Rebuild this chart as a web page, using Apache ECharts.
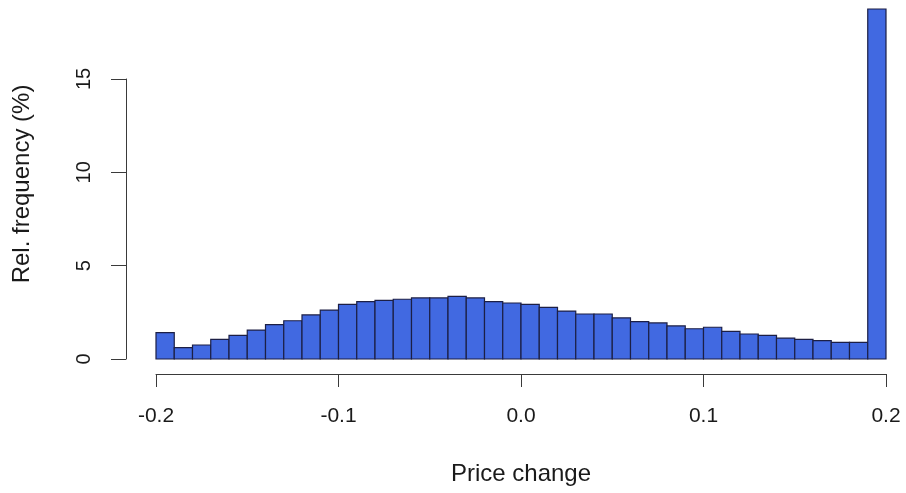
<!DOCTYPE html>
<html>
<head>
<meta charset="utf-8">
<script src="https://cdn.jsdelivr.net/npm/echarts@6/dist/echarts.min.js"></script>
<style>
html,body{margin:0;padding:0;background:#fff;}
#chart{width:906px;height:493px;}
</style>
</head>
<body>
<div id="chart"></div>
<script>
// Histogram bins (lower edges), bin width 0.01
const binStarts = [-0.20,-0.19,-0.18,-0.17,-0.16,-0.15,-0.14,-0.13,-0.12,-0.11,
                   -0.10,-0.09,-0.08,-0.07,-0.06,-0.05,-0.04,-0.03,-0.02,-0.01,
                    0.00, 0.01, 0.02, 0.03, 0.04, 0.05, 0.06, 0.07, 0.08, 0.09,
                    0.10, 0.11, 0.12, 0.13, 0.14, 0.15, 0.16, 0.17, 0.18, 0.19];
const binWidth = 0.01;
// Relative frequency (%)
const relFreq = [1.41,0.61,0.75,1.05,1.27,1.55,1.84,2.05,2.36,2.62,
                 2.93,3.07,3.14,3.20,3.27,3.27,3.36,3.27,3.07,3.00,
                 2.93,2.77,2.57,2.41,2.41,2.20,2.00,1.93,1.77,1.62,
                 1.70,1.48,1.34,1.27,1.12,1.05,0.98,0.89,0.89,18.75];
const xTicks = [-0.2,-0.1,0.0,0.1,0.2];
const xTickLabels = ['-0.2','-0.1','0.0','0.1','0.2'];
const yTicks = [0,5,10,15];
const yTickLabels = ['0','5','10','15'];

const FONT = 'Liberation Sans, Arial, sans-serif';
const AXIS_COLOR = '#3a3a3a';
const TEXT_COLOR = '#1a1a1a';

const data = binStarts.map((s,i)=>[s, s+binWidth, relFreq[i]]);

function nearestLabel(v, ticks, labels){
  let best = 0, d = Infinity;
  ticks.forEach((t,i)=>{ if(Math.abs(t-v)<d){d=Math.abs(t-v);best=i;} });
  return d < 1e-6 ? labels[best] : '';
}

const chart = echarts.init(document.getElementById('chart'), null, {renderer:'canvas'});
chart.setOption({
  backgroundColor:'#ffffff',
  animation:false,
  grid:[
    {left:156, right:20, top:9, bottom:134},
    {left:126, width:1, top:79, bottom:134}
  ],
  xAxis:[
    {
      gridIndex:0, type:'value', min:-0.2, max:0.2, interval:0.1,
      offset:15,
      splitLine:{show:false},
      axisLine:{show:true, onZero:false, lineStyle:{color:AXIS_COLOR, width:1}},
      axisTick:{show:true, length:13, lineStyle:{color:AXIS_COLOR, width:1}},
      axisLabel:{show:true, margin:32, fontFamily:FONT, fontSize:21, color:TEXT_COLOR,
        formatter:v=>nearestLabel(v,xTicks,xTickLabels)},
      name:'Price change', nameLocation:'middle', nameGap:88,
      nameTextStyle:{fontFamily:FONT, fontSize:24, color:TEXT_COLOR}
    },
    {
      gridIndex:1, type:'value', min:0, max:1, show:false
    }
  ],
  yAxis:[
    {
      gridIndex:0, type:'value', min:0, max:Math.max(...relFreq),
      axisLine:{show:false}, axisTick:{show:false}, axisLabel:{show:false},
      splitLine:{show:false},
      name:'Rel. frequency (%)', nameLocation:'middle', nameGap:122,
      nameTextStyle:{fontFamily:FONT, fontSize:24, color:TEXT_COLOR}
    },
    {
      gridIndex:1, type:'value', min:0, max:15, interval:5,
      splitLine:{show:false},
      axisLine:{show:true, onZero:false, lineStyle:{color:AXIS_COLOR, width:1}},
      axisTick:{show:true, length:15, lineStyle:{color:AXIS_COLOR, width:1}},
      axisLabel:{show:true, rotate:90, margin:32, fontFamily:FONT, fontSize:20, color:TEXT_COLOR,
        formatter:v=>nearestLabel(v,yTicks,yTickLabels)}
    }
  ],
  series:[{
    type:'custom',
    xAxisIndex:0, yAxisIndex:0,
    renderItem:function(params, api){
      const p0 = api.coord([api.value(0), 0]);
      const p1 = api.coord([api.value(1), api.value(2)]);
      return {
        type:'rect',
        shape:{x:p0[0], y:p1[1], width:p1[0]-p0[0], height:p0[1]-p1[1]},
        style:{fill:'#4169E1', stroke:'#1c1f45', lineWidth:1.2}
      };
    },
    encode:{x:[0,1], y:2},
    data:data
  }]
});
</script>
</body>
</html>
